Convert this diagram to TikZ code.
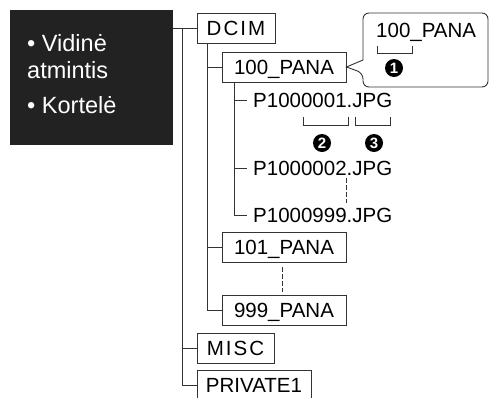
\documentclass[tikz,border=0pt]{standalone}
\usepackage{fontspec}
\setmainfont{Liberation Sans}
\usetikzlibrary{positioning,calc}
\definecolor{boxblack}{HTML}{222222}
\definecolor{treeline}{HTML}{333333}
\newcommand{\widetrack}{\addfontfeatures{LetterSpace=10}}

\begin{document}
\begin{tikzpicture}[x=1pt, y=-1pt,
    folder/.style={rectangle, draw=treeline, line width=0.9pt, minimum height=30pt, inner xsep=5pt, text height=15pt, text depth=0pt, font=\fontsize{20.5}{24}\selectfont},
    file/.style={inner xsep=6pt, inner ysep=2pt, anchor=west, text height=15pt, text depth=0pt, font=\fontsize{20.5}{24}\selectfont},
    branch/.style={draw=treeline, line width=0.9pt},
    dots/.style={draw=treeline, line width=0.9pt, dash pattern=on 5pt off 2pt},
    numbadge/.style={circle, fill=black, text=white, inner sep=0pt, minimum size=18pt, font=\fontsize{15}{15}\selectfont\bfseries}
]
\useasboundingbox (0,0) rectangle (489,397);

\node[rectangle, fill=boxblack, minimum width=163pt, minimum height=135pt, anchor=north west, inner sep=0pt] (media) at (10,10) {};
\node[text=white, align=left, anchor=north west, inner sep=0pt, font=\fontsize{23.5}{27}\selectfont] (medialabel) at (27,34) {
    \textbullet\ Vidinė\\
    atmintis\\[8pt]
    \textbullet\ Kortelė
};

\node[folder, minimum width=78pt] (dcim) at (236,28) {\widetrack DCIM};
\node[folder, minimum width=124pt] (pana100) at (284,67) {100\_PANA};
\node[folder, minimum width=124pt] (pana101) at (284,247) {101\_PANA};
\node[folder, minimum width=124pt] (pana999) at (284,310) {999\_PANA};
\node[folder, minimum width=77pt] (misc) at (235.5,348) {\widetrack MISC};
\node[folder, minimum width=114pt] (private) at (254,385) {PRIVATE1};

\node[file] (f1) at (247,100) {P1000001.JPG};
\node[file] (f2) at (247,168) {P1000002.JPG};
\node[file] (f3) at (247,215) {P1000999.JPG};

\coordinate (roottrunk) at ([xshift=-14pt]dcim.west);
\coordinate (dcimtrunk) at ([xshift=11pt]dcim.south west);
\coordinate (panatrunk) at ([xshift=13pt]pana100.south west);

\draw[branch] (media.east |- dcim.west) -- (dcim.west);
\draw[branch] (roottrunk) |- (misc.west);
\draw[branch] (roottrunk) |- (private.west);
\draw[branch] (dcimtrunk) |- (pana100.west);
\draw[branch] (dcimtrunk) |- (pana101.west);
\draw[branch] (dcimtrunk) |- (pana999.west);
\draw[branch] (panatrunk) |- (f1.west);
\draw[branch] (panatrunk) |- (f2.west);
\draw[branch] (panatrunk) |- (f3.west);

\draw[dots] ([xshift=99pt]f2.south west) -- ([xshift=99pt, yshift=2pt]f3.north west);
\draw[dots, shorten <=5pt, shorten >=3pt] ([xshift=-2pt]pana101.south) -- ([xshift=-2pt]pana999.north);

\draw[branch] ($(f1.west)+(56,17)$) -- ++(0,8) -| ($(f1.west)+(101,17)$);
\draw[branch] ($(f1.west)+(108,17)$) -- ++(0,8) -| ($(f1.west)+(143,17)$);
\node[numbadge] (num2) at ($(f1.west)+(75,43)$) {2};
\node[numbadge] (num3) at ($(f1.west)+(127,43)$) {3};

\node[anchor=west, inner sep=0pt, font=\fontsize{20.5}{24}\selectfont] (calltext) at (376,32) {100\_PANA};
\draw[branch] (363,60) [rounded corners=6pt] -- (363,13) -- (488,13) -- (488,87) -- (363,87) -- (363,73) [sharp corners] -- (pana100.east) -- cycle;
\draw[branch] ($(calltext.west)+(1,14)$) -- ++(0,7) -| ($(calltext.west)+(36,14)$);
\node[numbadge] (num1) at ($(calltext.west)+(18,36)$) {1};

\end{tikzpicture}
\end{document}
